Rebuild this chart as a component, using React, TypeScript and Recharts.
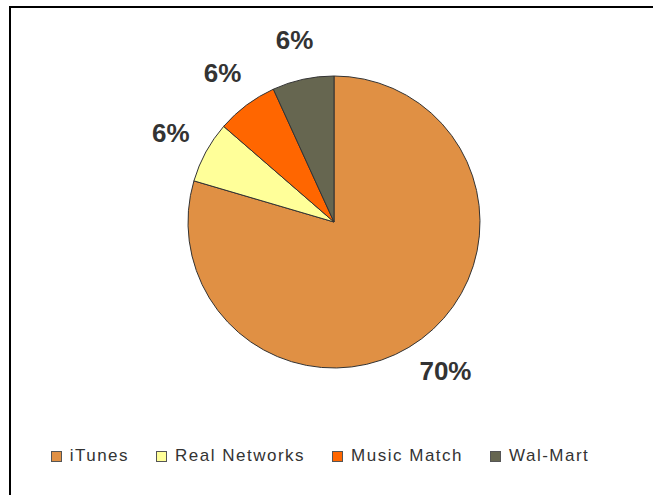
import React from 'react';
import { PieChart, Pie, Cell, Legend } from 'recharts';

const labels = ['iTunes', 'Real Networks', 'Music Match', 'Wal-Mart'];
const shares = [70, 6, 6, 6];
const colors = ['#E09044', '#FFFF99', '#FF6600', '#666650'];

const data = labels.map((name, i) => ({ name, value: shares[i] }));

const RAD = Math.PI / 180;

function renderLabel(props: any) {
  const { cx, cy, midAngle, outerRadius, value } = props;
  const r = outerRadius + 40;
  const x = cx + r * Math.cos(-midAngle * RAD);
  const y = cy + r * Math.sin(-midAngle * RAD);
  return (
    <text
      x={x}
      y={y}
      textAnchor="middle"
      dominantBaseline="central"
      fill="#333333"
      style={{ fontFamily: 'Liberation Sans, Arial, sans-serif', fontSize: 26, fontWeight: 'bold' }}
    >
      {value}%
    </text>
  );
}

// legend in data order (recharts would sort it by name)
function LegendContent() {
  return (
    <div style={{ display: 'flex', justifyContent: 'center', alignItems: 'center', gap: 27 }}>
      {labels.map((name, i) => (
        <div key={`lg-${name}`} style={{ display: 'flex', alignItems: 'center' }}>
          <span
            style={{
              width: 9,
              height: 9,
              background: colors[i],
              border: '1px solid #555',
              marginRight: 8,
              display: 'inline-block',
            }}
          />
          <span
            style={{
              fontFamily: 'Liberation Sans, Arial, sans-serif',
              fontSize: 17,
              letterSpacing: 1.5,
              color: '#333',
            }}
          >
            {name}
          </span>
        </div>
      ))}
    </div>
  );
}

export default function App() {
  return (
    <div style={{ position: 'absolute', top: 0, left: 0, width: 653, height: 495, overflow: 'hidden', background: '#fff' }}>
      <div
        style={{
          position: 'absolute',
          left: 9,
          top: 6,
          width: 700,
          height: 600,
          borderTop: '2px solid #000',
          borderLeft: '2px solid #000',
        }}
      />
      <div style={{ position: 'absolute', top: 0, left: 0 }}>
        <PieChart width={653} height={495} margin={{ top: 0, right: 0, bottom: 0, left: 0 }}>
          <Pie
            data={data}
            dataKey="value"
            nameKey="name"
            cx={334}
            cy={222}
            outerRadius={146}
            startAngle={90}
            endAngle={-270}
            stroke="#333"
            strokeWidth={1}
            label={renderLabel}
            labelLine={false}
            isAnimationActive={false}
          >
            {data.map((d, i) => (
              <Cell key={`cell-${d.name}`} fill={colors[i]} />
            ))}
          </Pie>
          <Legend
            content={<LegendContent />}
            wrapperStyle={{ top: 446, left: 0, width: 640 }}
          />
        </PieChart>
      </div>
    </div>
  );
}
